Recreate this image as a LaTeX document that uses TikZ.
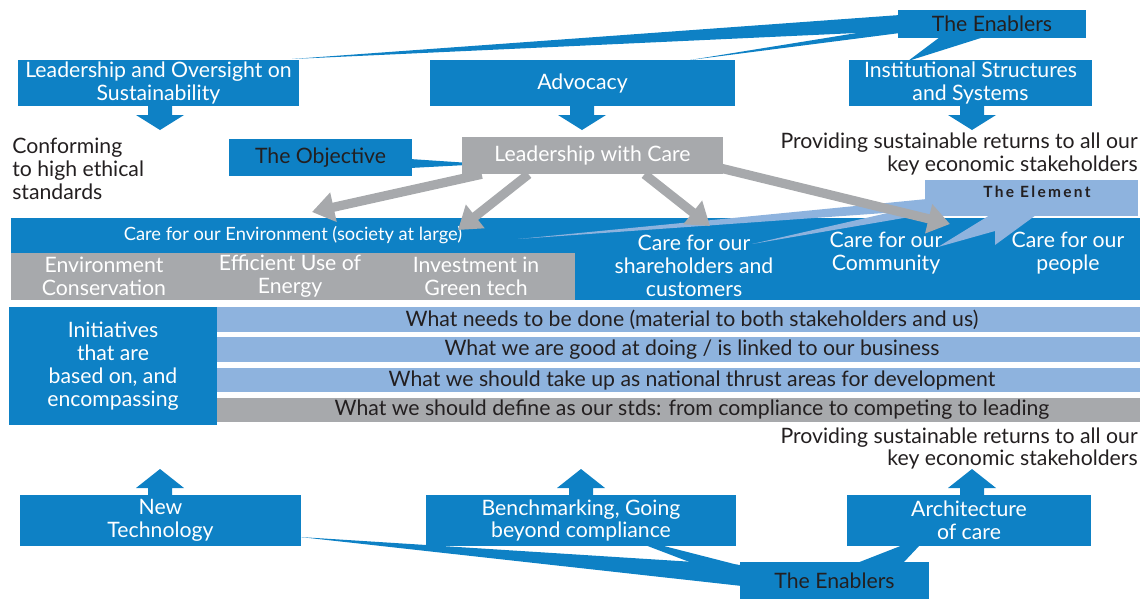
\documentclass[tikz,border=0pt]{standalone}
\usepackage{fontspec}
\setmainfont{Lato}
\usetikzlibrary{arrows.meta, positioning, calc}

\definecolor{cblue}{RGB}{14,129,197}
\definecolor{clight}{RGB}{142,179,222}
\definecolor{cgrey}{RGB}{167,169,172}
\definecolor{cdark}{RGB}{35,31,32}

\tikzset{
  sz/.style 2 args={minimum width=#1*0.025cm, minimum height=#2*0.025cm},
  bluebox/.style={fill=cblue, text=white, inner sep=0pt, align=center},
  greybox/.style={fill=cgrey, text=white, inner sep=0pt, align=center},
  plain/.style={text=cdark, inner sep=0pt},
  bandtext/.style={text=white, inner sep=0pt, align=center},
  bigarrow/.style={draw=cgrey, line width=0.23cm, -{Triangle[length=0.55cm,width=0.72cm]}},
}

\begin{document}
\begin{tikzpicture}[x=0.025cm, y=-0.025cm, font=\fontsize{15.1}{16.3}\selectfont]
\useasboundingbox (0,0) rectangle (1144,600);

% Enablers (top) callouts
\fill[cblue] (292,59) -- (900,15) -- (900,31) -- cycle;
\fill[cblue] (690,60) -- (900,26) -- (900,33) -- cycle;
\fill[cblue] (908,61) -- (940,37) -- (984,37) -- cycle;

% Top row
\node[bluebox, sz={188}{28}, text=cdark] (entop) at (992,24) {The Enablers};
\node[bluebox, sz={281}{46}] (lead) at (158.5,83) {Leadership and Oversight on\\Sustainability};
\node[bluebox, sz={305}{46}] (adv) at (582.5,83) {Advocacy};
\node[bluebox, sz={243}{46}] (inst) at (970.5,83) {Institutional Structures\\and Systems};

% Down arrows
\foreach \cx in {160,582,972}
  \fill[cblue] (\cx-12,106) -- (\cx+12,106) -- (\cx+12,115) -- (\cx+24,115)
    -- (\cx,130) -- (\cx-24,115) -- (\cx-12,115) -- cycle;

\node[plain, anchor=west, align=left] (conf) at (12,169) {Conforming\\to high ethical\\standards};
\node[plain, anchor=east, align=right] (ret1) at (1138,154) {Providing sustainable returns to all our\\key economic stakeholders};

% Objective
\fill[cblue] (410,159) -- (485,164) -- (410,168) -- cycle;
\node[bluebox, sz={183}{37}, text=cdark] (obj) at (320.5,157.5) {The Objective};

% The element band
\node[bluebox, sz={565}{35}, font=\fontsize{13}{14}\selectfont] (env) at (293,235.5) {Care for our Environment (society at large)};
\node[greybox, sz={564}{47}] (envsub) at (293,276.5) {};
\node[bluebox, sz={565}{82}] (stake) at (857.5,259) {};
\node[bandtext] (econs) at (104,276.5) {Environment\\Conservation};
\node[bandtext] (eener) at (290,276.5) {Efficient Use of\\Energy};
\node[bandtext] (egreen) at (476,276.5) {Investment in\\Green tech};
\node[bandtext] (cshare) at (694,265.5) {Care for our\\shareholders and\\customers};
\node[bandtext] (ccomm) at (886,253.5) {Care for our\\Community};
\node[bandtext] (cpeop) at (1068,253.5) {Care for our\\people};

% Element callouts
\fill[clight] (518,239) -- (927,199) -- (927,210) -- cycle;
\fill[clight] (752,244) -- (927,204) -- (927,214) -- cycle;
\fill[clight] (990,215) -- (938,247) -- (995,231) -- (995,245) -- (1036,215) -- cycle;
\node[fill=clight, sz={213}{36}, inner sep=0pt] (elem) at (1031.5,198) {};
\node[plain, font=\bfseries\fontsize{11}{12}\selectfont\addfontfeature{LetterSpace=15}] (elemtxt) at (1037,192) {The Element};

% Leadership with care
\node[greybox, sz={261}{37}] (care) at (592.5,155.5) {Leadership with Care};
\coordinate (tenv1) at (312,212);
\coordinate (tenv2) at (458,230);
\coordinate (tshare) at (710,226);
\coordinate (tcomm) at (950,224);
\draw[bigarrow] ($(care.south west)+(20,0)$) -- (tenv1);
\draw[bigarrow] ($(care.south)+(-64,0)$) -- (tenv2);
\draw[bigarrow] ($(care.south)+(52,0)$) -- (tshare);
\draw[bigarrow] ($(care.south east)+(-2,-6)$) -- (tcomm);

% Initiatives
\node[bluebox, sz={208}{118}] (init) at (113,366) {Initiatives\\that are\\based on, and\\encompassing};
\fill[clight] (217,307) rectangle (1140,332);
\fill[clight] (217,337) rectangle (1140,362);
\fill[clight] (217,368) rectangle (1140,392);
\fill[cgrey] (217,398) rectangle (1140,422);
\node[plain] (r1) at (692,319.5) {What needs to be done (material to both stakeholders and us)};
\node[plain] (r2) at (692,349.5) {What we are good at doing / is linked to our business};
\node[plain] (r3) at (692,380) {What we should take up as national thrust areas for development};
\node[plain] (r4) at (692,410) {What we should define as our stds: from compliance to competing to leading};

\node[plain, anchor=east, align=right] (ret2) at (1138,448.5) {Providing sustainable returns to all our\\key economic stakeholders};

% Enablers (bottom) callouts
\fill[cblue] (300,537) -- (742,565) -- (742,586) -- cycle;
\fill[cblue] (645,545) -- (660,545) -- (742,566) -- (742,582) -- cycle;
\fill[cblue] (857,563) -- (903,545) -- (920,545) -- (903,563) -- cycle;

% Bottom row
\node[bluebox, sz={281}{51}] (newtech) at (160.5,520.5) {New\\Technology};
\node[bluebox, sz={310}{51}] (bench) at (581,520.5) {Benchmarking, Going\\beyond compliance};
\node[bluebox, sz={244}{51}] (arch) at (969,520.5) {Architecture\\of care};
\node[bluebox, sz={189}{37}, text=cdark] (enbot) at (834.5,580.5) {The Enablers};

% Up arrows
\foreach \cx in {160,581,972}
  \fill[cblue] (\cx-12,496) -- (\cx-12,488) -- (\cx-24,488) -- (\cx,469)
    -- (\cx+24,488) -- (\cx+12,488) -- (\cx+12,496) -- cycle;

\end{tikzpicture}
\end{document}
